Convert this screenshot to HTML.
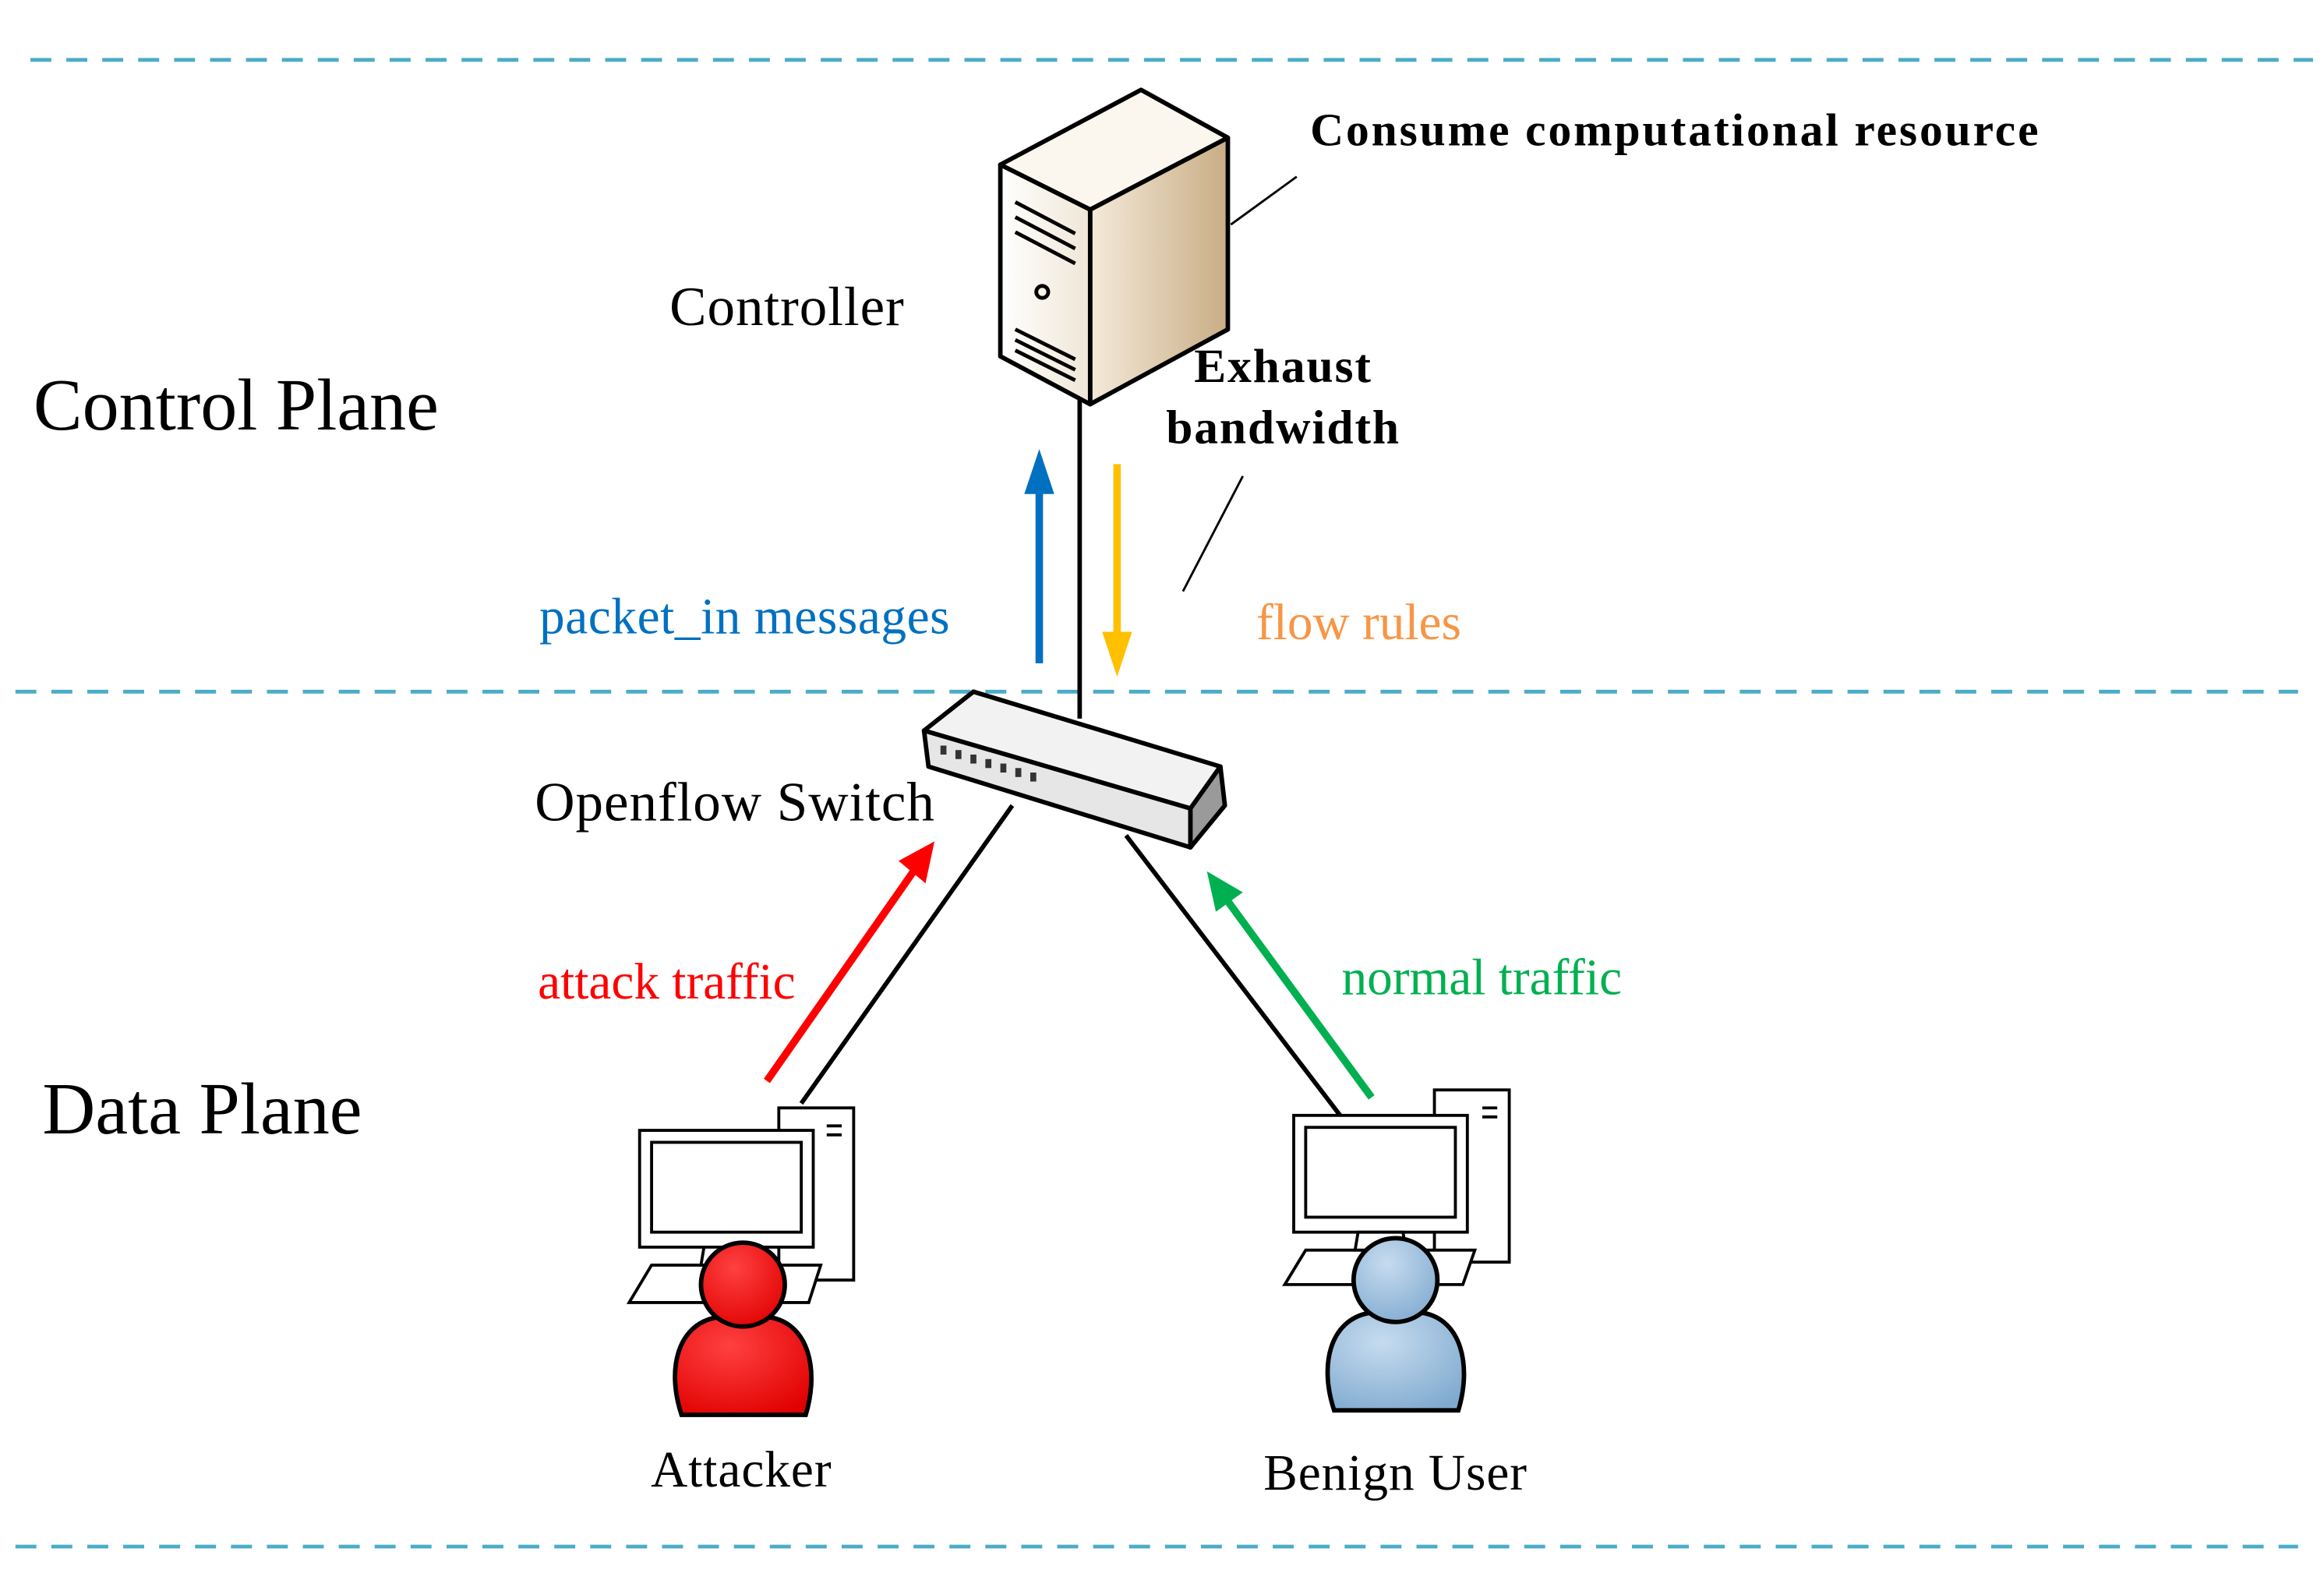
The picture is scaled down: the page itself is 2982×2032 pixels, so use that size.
<!DOCTYPE html>
<html><head><meta charset="utf-8"><style>html,body{margin:0;padding:0;background:#fff}svg{display:block}text{font-family:"Liberation Serif",serif}</style></head>
<body>
<svg width="2982" height="2032" viewBox="0 0 1552 1058" xmlns="http://www.w3.org/2000/svg">
<defs>
<linearGradient id="sv" x1="0" y1="0" x2="1" y2="0"><stop offset="0" stop-color="#f4ead9"/><stop offset="1" stop-color="#c9ad85"/></linearGradient>
<linearGradient id="sf" x1="0" y1="0" x2="1" y2="0"><stop offset="0" stop-color="#fff"/><stop offset="1" stop-color="#efe6d6"/></linearGradient>
<radialGradient id="rb" cx="0.4" cy="0.3" r="0.8"><stop offset="0" stop-color="#ff4040"/><stop offset="1" stop-color="#e00000"/></radialGradient>
<radialGradient id="bb" cx="0.4" cy="0.3" r="0.8"><stop offset="0" stop-color="#c6dcef"/><stop offset="1" stop-color="#7fa9cf"/></radialGradient>
</defs>
<g stroke="#4bacc6" stroke-width="2.5" stroke-dasharray="14,10">
<line x1="20" y1="40" x2="1545" y2="40"/><line x1="10" y1="462" x2="1535" y2="462"/><line x1="10" y1="1033" x2="1535" y2="1033"/>
</g>
<text x="22" y="287" font-size="49">Control Plane</text>
<text x="28" y="757" font-size="49">Data Plane</text>
<line x1="721" y1="265" x2="721" y2="480" stroke="#000" stroke-width="3"/>
<line x1="676" y1="538" x2="535" y2="737" stroke="#000" stroke-width="3"/>
<line x1="752" y1="558" x2="895" y2="745" stroke="#000" stroke-width="3"/>
<g stroke="#000" stroke-width="3" stroke-linejoin="round">
<polygon points="668,110 762,60 820,92 728,140" fill="#fbf7ef"/>
<polygon points="728,140 820,92 820,220 728,270" fill="url(#sv)"/>
<polygon points="668,110 728,140 728,270 668,238" fill="url(#sf)"/>
</g>
<g stroke="#000" stroke-width="2.5" fill="none">
<path d="M678,135 L718,156 M678,145 L718,166 M678,155 L718,176"/>
<circle cx="696" cy="195" r="4"/>
<path d="M678,220 L718,240 M678,227 L718,247 M678,234 L718,254"/>
</g>
<line x1="822" y1="150" x2="866" y2="118" stroke="#000" stroke-width="1.5"/>
<line x1="830" y1="318" x2="790" y2="395" stroke="#000" stroke-width="1.5"/>
<text x="447" y="217" font-size="37" letter-spacing="0.5">Controller</text>
<text x="875" y="97" font-size="31" font-weight="bold" letter-spacing="1.5">Consume computational resource</text>
<text x="857" y="255" font-size="32" font-weight="bold" text-anchor="middle" letter-spacing="1">Exhaust</text>
<text x="857" y="296" font-size="32" font-weight="bold" text-anchor="middle" letter-spacing="1">bandwidth</text>
<line x1="694" y1="443" x2="694" y2="325" stroke="#0070c0" stroke-width="5"/>
<polygon points="684,330 694,300 704,330" fill="#0070c0"/>
<line x1="746" y1="310" x2="746" y2="425" stroke="#ffc000" stroke-width="5"/>
<polygon points="736,422 746,452 756,422" fill="#ffc000"/>
<text x="360" y="423" font-size="34" fill="#0070c0" letter-spacing="0.3">packet_in messages</text>
<text x="839" y="427" font-size="34" fill="#f79646">flow rules</text>
<g stroke="#000" stroke-width="3" stroke-linejoin="round">
<polygon points="617,488 650,462 815,512 795,540" fill="#f2f2f2"/>
<polygon points="617,488 795,540 795,566 620,512" fill="#e6e6e6"/>
<polygon points="795,540 815,512 818,538 795,566" fill="#9a9a9a"/>
</g>
<g fill="#333"><rect x="628" y="498" width="4" height="6"/><rect x="638" y="501" width="4" height="6"/><rect x="648" y="504" width="4" height="6"/><rect x="658" y="507" width="4" height="6"/><rect x="668" y="510" width="4" height="6"/><rect x="678" y="513" width="4" height="6"/><rect x="688" y="516" width="4" height="6"/></g>
<text x="357" y="548" font-size="37" letter-spacing="0.5">Openflow Switch</text>
<line x1="512" y1="722" x2="610" y2="582" stroke="#ff0000" stroke-width="5"/>
<polygon points="600,575 624,562 618,590" fill="#ff0000"/>
<line x1="916" y1="733" x2="820" y2="602" stroke="#00b050" stroke-width="5"/>
<polygon points="812,609 806,582 830,596" fill="#00b050"/>
<text x="359" y="667" font-size="34" fill="#ff0000">attack traffic</text>
<text x="896" y="664" font-size="34" fill="#00b050">normal traffic</text>
<g stroke="#000" stroke-width="2" fill="#fff">
<rect x="520" y="740" width="50" height="115"/>
<line x1="552" y1="752" x2="562" y2="752"/><line x1="552" y1="758" x2="562" y2="758"/>
<rect x="427" y="755" width="116" height="78"/>
<rect x="435" y="763" width="100" height="60"/>
<polygon points="435,845 548,845 540,870 420,870"/>
<polygon points="470,833 500,833 502,845 468,845"/>
</g>
<g stroke="#000" stroke-width="3">
<path d="M455,945 C445,915 452,885 478,880 L515,880 C540,885 547,915 538,945 Z" fill="url(#rb)"/>
<circle cx="496" cy="858" r="28" fill="url(#rb)"/>
</g>
<g stroke="#000" stroke-width="2" fill="#fff">
<rect x="958" y="728" width="50" height="115"/>
<line x1="990" y1="740" x2="1000" y2="740"/><line x1="990" y1="746" x2="1000" y2="746"/>
<rect x="864" y="745" width="116" height="78"/>
<rect x="872" y="753" width="100" height="60"/>
<polygon points="872,835 985,835 977,858 858,858"/>
<polygon points="907,823 937,823 939,835 905,835"/>
</g>
<g stroke="#000" stroke-width="3">
<path d="M891,942 C881,912 888,882 914,877 L951,877 C976,882 983,912 974,942 Z" fill="url(#bb)"/>
<circle cx="932" cy="855" r="28" fill="url(#bb)"/>
</g>
<text x="495" y="993" font-size="34" text-anchor="middle" letter-spacing="0.5">Attacker</text>
<text x="932" y="995" font-size="34" text-anchor="middle" letter-spacing="0.5">Benign User</text>
</svg>
</body></html>
